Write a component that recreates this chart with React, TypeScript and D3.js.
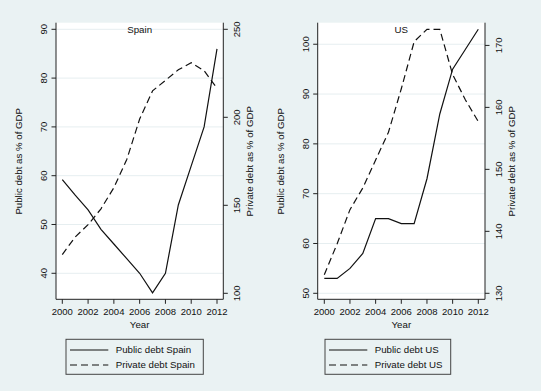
import * as d3 from "d3";

const years = [2000, 2001, 2002, 2003, 2004, 2005, 2006, 2007, 2008, 2009, 2010, 2011, 2012];
const yearTicks = [2000, 2002, 2004, 2006, 2008, 2010, 2012];

const spainPublic = [59.2, 56, 53, 49, 46, 43, 40, 36, 40, 54, 62, 70, 86];
const spainPrivate = [122, 132, 139, 148, 160, 176, 199, 215, 221, 227, 231, 226.5, 216.5];
const usPublic = [53, 53, 55, 58, 65, 65, 64, 64, 73, 86, 95, 99, 103];
const usPrivate = [133, 138, 143.5, 147, 151.5, 156, 163, 170.6, 172.6, 172.6, 165.3, 161.2, 157.7];

const spainLeftTicks = [40, 50, 60, 70, 80, 90];
const spainRightTicks = [100, 150, 200, 250];
const usLeftTicks = [50, 60, 70, 80, 90, 100];
const usRightTicks = [130, 140, 150, 160, 170];

const FONT = "'Liberation Sans', Arial, sans-serif";
const BG = "#eaf2f3";

type PanelProps = {
  title: string;
  pub: number[];
  priv: number[];
  leftDomain: [number, number];
  rightDomain: [number, number];
  leftTicks: number[];
  rightTicks: number[];
  x0: number; // plot region left
  x1: number; // plot region right
  xr: [number, number];
  legend: [number, number];
};

function Panel(p: PanelProps) {
  const top = 22.7, bottom = 299.3;
  const x = d3.scaleLinear([2000, 2012], p.xr);
  const yL = d3.scaleLinear(p.leftDomain, [293.3, 29.3]);
  const yR = d3.scaleLinear(p.rightDomain, [293.3, 29.3]);
  const linePub = d3.line<number>().x((_, i) => x(years[i])).y((d) => yL(d));
  const linePriv = d3.line<number>().x((_, i) => x(years[i])).y((d) => yR(d));
  const cx = (p.x0 + p.x1) / 2;
  const midY = 161.3;
  const [lx, lw] = p.legend;
  return (
    <g fontFamily={FONT} fill="#111">
      <rect x={p.x0} y={top} width={p.x1 - p.x0} height={bottom - top} fill="#fff" />
      {p.leftTicks.map((t) => (
        <line key={"g" + t} x1={p.x0} x2={p.x1} y1={yL(t)} y2={yL(t)} stroke="#e6eef0" strokeWidth={1} />
      ))}
      <path d={linePriv(p.priv)!} fill="none" stroke="#111" strokeWidth={1.2} strokeDasharray="7,4" />
      <path d={linePub(p.pub)!} fill="none" stroke="#111" strokeWidth={1.2} />
      <text x={cx} y={29.3} dy="0.35em" textAnchor="middle" fontSize={9.7}>{p.title}</text>
      {/* axes */}
      <line x1={p.x0} x2={p.x0} y1={top} y2={bottom} stroke="#222" />
      <line x1={p.x1} x2={p.x1} y1={top} y2={bottom} stroke="#222" />
      <line x1={p.x0} x2={p.x1} y1={bottom} y2={bottom} stroke="#222" />
      {p.leftTicks.map((t) => (
        <g key={"l" + t}>
          <line x1={p.x0 - 4.5} x2={p.x0} y1={yL(t)} y2={yL(t)} stroke="#222" />
          <text transform={`translate(${p.x0 - 12.5},${yL(t)}) rotate(-90)`} textAnchor="middle" dy="0.35em" fontSize={9.5}>{t}</text>
        </g>
      ))}
      {p.rightTicks.map((t) => (
        <g key={"r" + t}>
          <line x1={p.x1} x2={p.x1 + 4.5} y1={yR(t)} y2={yR(t)} stroke="#222" />
          <text transform={`translate(${p.x1 + 13.4},${yR(t)}) rotate(-90)`} textAnchor="middle" dy="0.35em" fontSize={9.5}>{t}</text>
        </g>
      ))}
      {yearTicks.map((t) => (
        <g key={"x" + t}>
          <line x1={x(t)} x2={x(t)} y1={bottom} y2={bottom + 4.5} stroke="#222" />
          <text x={x(t)} y={311.7} dy="0.35em" textAnchor="middle" fontSize={9.5}>{t}</text>
        </g>
      ))}
      <text x={cx} y={325} dy="0.35em" textAnchor="middle" fontSize={9.7}>Year</text>
      <text transform={`translate(${p.x0 - 37.5},${midY}) rotate(-90)`} textAnchor="middle" dy="0.35em" fontSize={9.7}>Public debt as % of GDP</text>
      <text transform={`translate(${p.x1 + 26.7},${midY}) rotate(-90)`} textAnchor="middle" dy="0.35em" fontSize={9.7}>Private debt as % of GDP</text>
      {/* legend */}
      <rect x={lx} y={339.3} width={lw} height={35} fill="none" stroke="#444" />
      <line x1={lx + 4} x2={lx + 42.3} y1={350} y2={350} stroke="#111" strokeWidth={1.2} />
      <line x1={lx + 4} x2={lx + 42.3} y1={365} y2={365} stroke="#111" strokeWidth={1.2} strokeDasharray="7,4" />
      <text x={lx + 49.7} y={350} dy="0.35em" fontSize={9.7}>Public debt {p.title}</text>
      <text x={lx + 49.7} y={365} dy="0.35em" fontSize={9.7}>Private debt {p.title}</text>
    </g>
  );
}

export default function App() {
  return (
    <svg width={541} height={391} style={{ position: "absolute", left: 0, top: 0 }}>
      <rect width={541} height={391} fill={BG} />
      <Panel
        title="Spain"
        pub={spainPublic}
        priv={spainPrivate}
        leftDomain={[35.9, 90]}
        rightDomain={[100, 250]}
        leftTicks={spainLeftTicks}
        rightTicks={spainRightTicks}
        x0={56}
        x1={223.3}
        xr={[62.3, 217]}
        legend={[66, 137.3]}
      />
      <Panel
        title="US"
        pub={usPublic}
        priv={usPrivate}
        leftDomain={[50, 103]}
        rightDomain={[130, 172.6]}
        leftTicks={usLeftTicks}
        rightTicks={usRightTicks}
        x0={317.7}
        x1={485}
        xr={[324.3, 478.3]}
        legend={[325, 125.7]}
      />
    </svg>
  );
}
